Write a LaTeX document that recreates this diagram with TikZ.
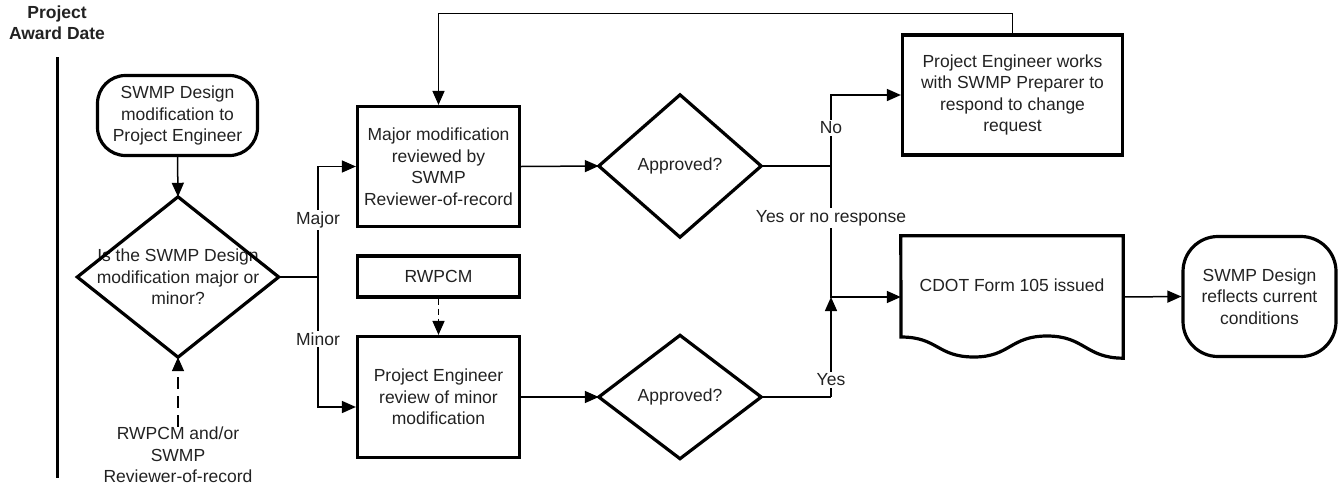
\documentclass[tikz,border=0pt]{standalone}
\usepackage{fontspec}
\setmainfont{Liberation Sans}
\usetikzlibrary{arrows.meta,calc}
\definecolor{txt}{HTML}{222222}
\begin{document}
\begin{tikzpicture}[x=1pt,y=-1pt,
  every node/.style={font=\fontsize{17.5}{21.5}\selectfont, text=txt},
  shapeline/.style={draw=black, line width=3.2pt, line join=miter},
  boxnode/.style={shapeline, rectangle, inner sep=0pt, align=center},
  ghost/.style={rectangle, inner sep=0pt, align=center},
  conn/.style={draw=black, line width=1.5pt},
  arr/.style={conn, -{Triangle[length=14pt,width=12pt]}},
  dasharr/.style={arr, dash pattern=on 12pt off 7pt},
  shortdasharr/.style={arr, dash pattern=on 6pt off 4pt},
  lab/.style={fill=white, inner sep=2pt}
]
\useasboundingbox (0,0) rectangle (1338,490);

% title and time line
\node[font=\bfseries\fontsize{17.5}{21}\selectfont, align=center] (title) at (57,23) {Project\\Award Date};
\coordinate (tl1) at (57,57);
\coordinate (tl2) at (57,478);
\draw[line width=3pt] (tl1) -- (tl2);

% nodes
\node[boxnode, rounded corners=28pt, minimum width=160pt, minimum height=80pt] (start) at (177.5,115.5)
  {SWMP Design\\modification to\\Project Engineer};
\node[ghost, minimum width=201pt, minimum height=160pt] (dec) at (178,277)
  {Is the SWMP Design\\modification major or\\minor?};
\node[align=center, inner sep=0pt] (src) at (178,455)
  {RWPCM and/or\\SWMP\\Reviewer-of-record};

\node[boxnode, minimum width=162pt, minimum height=120pt] (major) at (438.5,166.5)
  {Major modification\\reviewed by\\SWMP\\Reviewer-of-record};
\node[boxnode, minimum width=162pt, minimum height=41pt] (rwpcm) at (438.5,276.5) {RWPCM};
\node[boxnode, minimum width=162pt, minimum height=121pt] (minor) at (438.5,397)
  {Project Engineer\\review of minor\\modification};

\node[ghost, minimum width=162pt, minimum height=142pt] (app1) at (680,166) {Approved?};
\node[ghost, minimum width=162pt, minimum height=123pt] (app2) at (680,397) {Approved?};

\node[boxnode, minimum width=220pt, minimum height=120pt] (pe) at (1012.5,95)
  {Project Engineer works\\with SWMP Preparer to\\respond to change\\request};
\node[ghost, minimum width=222pt, minimum height=122pt,
  label={[yshift=12pt, text=txt, font=\fontsize{17.5}{21.5}\selectfont]center:CDOT Form 105 issued}] (doc) at (1012,297) {};
\node[boxnode, rounded corners=35pt, minimum width=153pt, minimum height=120pt] (term) at (1259.5,296.5)
  {SWMP Design\\reflects current\\conditions};

% diamond outlines
\foreach \d in {dec,app1,app2}{
  \draw[shapeline] (\d.north) -- (\d.east) -- (\d.south) -- (\d.west) -- cycle;
}
% document outline
\draw[shapeline] (doc.south east) -- (doc.north east) -- (doc.north west) -- (901,337)
  .. controls (938,337) and (937,357) .. (974,357)
  .. controls (1010,357) and (1010,336) .. (1047,336)
  .. controls (1085,336) and (1085,358) .. (doc.south east) -- cycle;

% junction coordinates
\coordinate (jL) at (318,277);
\coordinate (jR) at (831,166);
\coordinate (jD) at (831,297);
\coordinate (jY) at (831,397);

% connectors
\draw[arr] (start.south) -- (dec.north);
\draw[dasharr] (src.north) -- (dec.south);
\draw[conn] (dec.east) -- (jL);
\draw[arr] (jL) |- (major.west);
\draw[arr] (jL) |- ($(minor.west)+(0,10)$);
\draw[shortdasharr] (rwpcm.south) -- (minor.north);
\draw[arr] (major.east) -- (app1.west);
\draw[arr] (minor.east) -- (app2.west);
\draw[conn] (app1.east) -- (jR);
\draw[arr] (jR) |- (pe.west);
\draw[arr] (jR) |- (doc.west);
\draw[conn] (app2.east) -- (jY);
\draw[arr] (jY) -- (jD);
\draw[arr] (pe.north) -- ++(0,-20) -| (major.north);
\draw[arr] (doc.east) -- (term.west);

% labels
\node[lab] (lmajor) at (318,220) {Major};
\node[lab] (lminor) at (318,339) {Minor};
\node[lab] (lno) at (831,128) {No};
\node[lab] (lyesno) at (831,218) {Yes or no response};
\node[lab] (lyes) at (831,380) {Yes};
\end{tikzpicture}
\end{document}
